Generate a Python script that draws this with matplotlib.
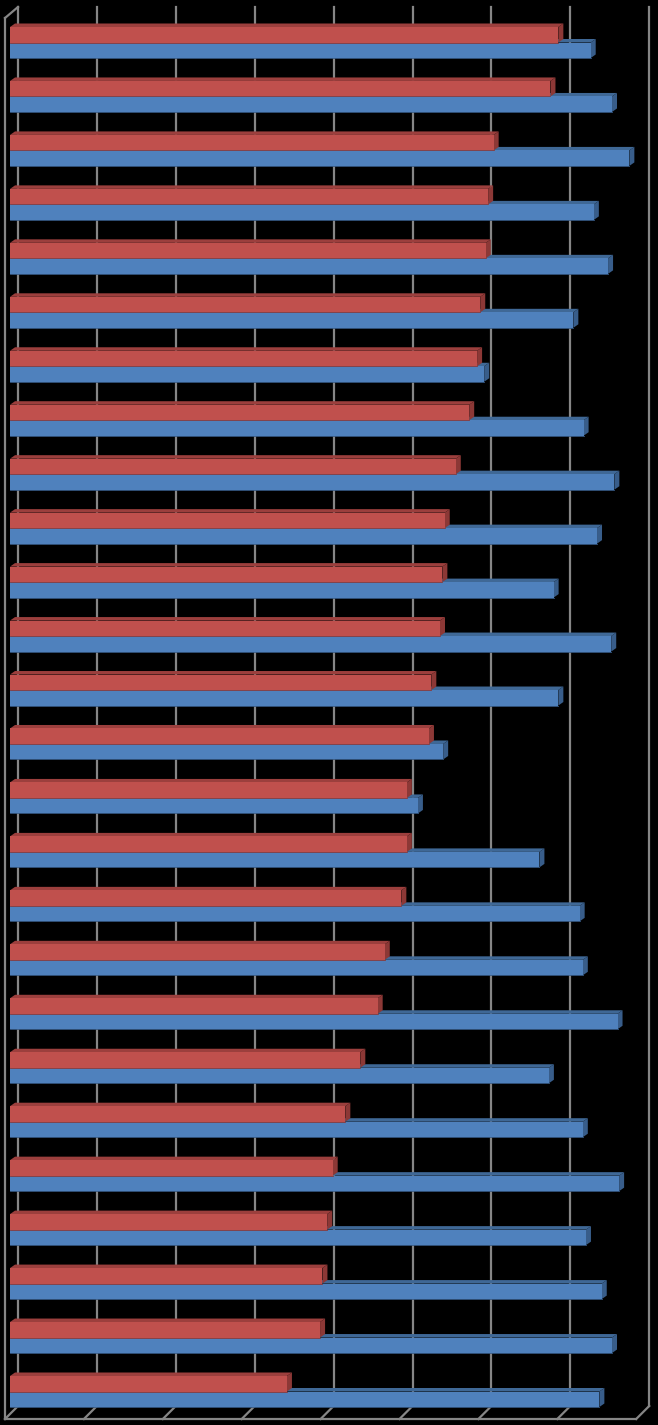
import numpy as np
import matplotlib
matplotlib.use("Agg")
import matplotlib.pyplot as plt
from matplotlib.patches import Polygon

# values (grid step = 10)
red_vals = [69.5, 68.5, 61.3, 60.6, 60.3, 59.6, 59.2, 58.2, 56.5, 55.1, 54.8, 54.5, 53.4,
            53.1, 50.3, 50.3, 49.6, 47.5, 46.6, 44.4, 42.5, 40.9, 40.2, 39.6, 39.3, 35.1]
blue_vals = [73.6, 76.3, 78.5, 74.0, 75.8, 71.4, 60.1, 72.7, 76.6, 74.4, 68.9, 76.2, 69.5,
             54.9, 51.7, 67.1, 72.2, 72.6, 77.0, 68.3, 72.6, 77.2, 73.0, 75.0, 76.3, 74.7]
ticks = np.arange(0, 81, 10)

# pixel <-> data helpers (axes fills the whole figure)
PX_PER_X = 7.89      # pixels per value unit
PX_PER_ROW = 53.96   # pixels per category
X0_PX = 10.0
Y0_PX = 42.5


def xd(px):
    return (px - X0_PX) / PX_PER_X


def yd(py):
    return (py - Y0_PX) / PX_PER_ROW


fig = plt.figure(figsize=(6.58, 14.25), dpi=100)
fig.patch.set_facecolor("black")
ax = fig.add_axes([0, 0, 1, 1])
ax.set_facecolor("black")
ax.set_xlim(xd(0), xd(658))
ax.set_ylim(yd(1425), yd(0))
ax.axis("off")

# walls and floor
grid_c = "#868686"
back_dx = 8 / PX_PER_X
front_dx = -5 / PX_PER_X
for t in ticks:
    ax.plot([t + back_dx, t + back_dx], [yd(7), yd(1406)], color=grid_c, lw=1.6, zorder=1)
    ax.plot([t + back_dx, t + front_dx], [yd(1406), yd(1419)], color=grid_c, lw=1.6, zorder=1)
ax.plot([front_dx, ticks[-1] + front_dx], [yd(1419), yd(1419)], color=grid_c, lw=1.6, zorder=1)
ax.plot([front_dx, front_dx], [yd(18), yd(1419)], color=grid_c, lw=1.6, zorder=1)
ax.plot([front_dx, back_dx], [yd(18), yd(7)], color=grid_c, lw=1.6, zorder=1)

# bars with a little depth
n = len(red_vals)
y = np.arange(n)
h = 15.5 / PX_PER_ROW
ddx = 5 / PX_PER_X
ddy = 3.5 / PX_PER_ROW


def draw_bars(vals, yc, face, top, side, z):
    bars = ax.barh(yc, vals, height=h, left=0, color=face, linewidth=0, zorder=z + 0.5)
    for b in bars:
        x1 = b.get_width()
        yt = b.get_y()
        yb = yt + b.get_height()
        ax.add_patch(Polygon([(0, yt), (x1, yt), (x1 + ddx, yt - ddy), (ddx, yt - ddy)],
                             closed=True, facecolor=top, edgecolor="none", zorder=z))
        ax.add_patch(Polygon([(x1, yt), (x1 + ddx, yt - ddy), (x1 + ddx, yb - ddy), (x1, yb)],
                             closed=True, facecolor=side, edgecolor="none", zorder=z))
        # thin darker line along the bottom edge
        ax.plot([0, x1], [yb, yb], color=side, lw=0.6, zorder=z + 0.6)


draw_bars(blue_vals, y + h / 2, "#4F81BD", "#3F6896", "#385D8A", 2)
draw_bars(red_vals, y - h / 2, "#C0504D", "#9C3F3D", "#8C3836", 4)

fig.savefig("out.png", dpi=100, facecolor="black")
